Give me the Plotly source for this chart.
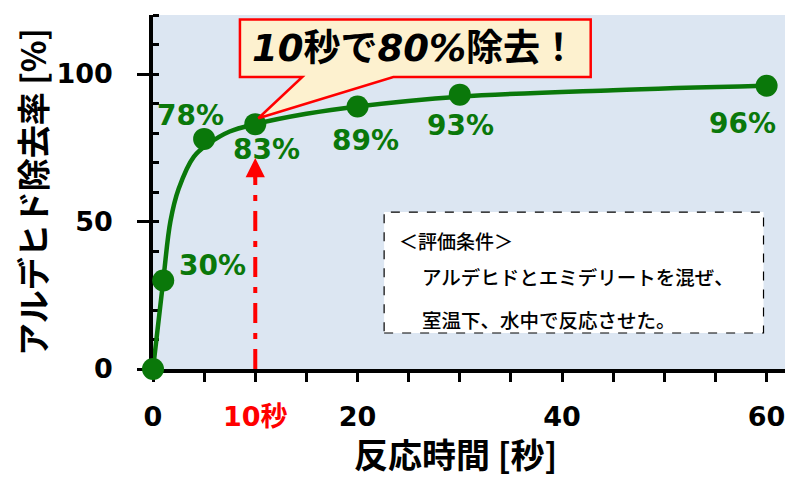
import plotly.graph_objects as go

# measured points: reaction time [s] and removal rate [%]
times = [0, 1, 5, 10, 20, 30, 60]
removal = [0, 30, 78, 83, 89, 93, 96]
labels = ["", "30%", "78%", "83%", "89%", "93%", "96%"]

# fitted curve as drawn in the chart
curve_t = [0, 1, 1.7, 2.5, 4, 5.5, 7.5, 10, 15, 20, 30, 45, 60]
curve_v = [0, 30, 50, 61, 72, 76.5, 80.5, 83, 86.5, 89, 92.3, 94.5, 96]

x_tick_vals = [0, 5, 10, 15, 20, 25, 30, 35, 40, 45, 50, 55, 60]
x_tick_text = ["0", "", "<span style='color:#ff0000'>10秒</span>", "", "20", "", "", "", "40", "", "", "", "60"]
y_tick_vals = [0, 50, 100]

green = "#0a780a"
red = "#ff0000"
num_font = "DejaVu Sans, Noto Sans CJK JP"
jp_font = "Noto Sans CJK JP"

# label offsets in px (placement only)
label_dx = [0, 49, -14, 11, 8, 1, -24]
label_dy = [0, 15, 23, -25, -34, -31, -38]

fig = go.Figure()

fig.add_trace(go.Scatter(
    x=curve_t, y=curve_v, mode="lines",
    line=dict(color=green, width=4.5, shape="spline", smoothing=1.0),
    cliponaxis=False, showlegend=False, hoverinfo="skip",
))
fig.add_trace(go.Scatter(
    x=times, y=removal, mode="markers",
    marker=dict(color=green, size=22),
    cliponaxis=False, showlegend=False, hoverinfo="skip",
))

for t, v, lab, dx, dy in zip(times, removal, labels, label_dx, label_dy):
    if lab == "":
        continue
    fig.add_annotation(x=t, y=v, text="<b>" + lab + "</b>", showarrow=False,
                       xshift=dx, yshift=dy,
                       font=dict(family=num_font, size=28, color=green))

# red dash-dot marker at 10 s
fig.add_shape(type="line", x0=10, x1=10, y0=0, y1=66, xref="x", yref="y",
              line=dict(color=red, width=4, dash="20px,10px,6px,10px"))
fig.add_annotation(x=10, y=71.5, ax=10, ay=64, axref="x", ayref="y",
                   xref="x", yref="y", text="", showarrow=True,
                   arrowhead=2, arrowsize=1.1, arrowwidth=3.5, arrowcolor=red)

# callout box
fig.add_shape(type="path", xref="x", yref="y",
              path="M 8.5 118.5 L 42.8 118.5 L 42.8 99 L 23.5 99 L 10.3 85 L 14.6 99 L 8.5 99 Z",
              fillcolor="#fdf1cf", line=dict(color=red, width=2.5), layer="above")
fig.add_annotation(x=25.6, y=108.7, xref="x", yref="y", showarrow=False,
                   text="<b><i>10</i>秒で<i>80%</i>除去！</b>",
                   font=dict(family="DejaVu Sans, Noto Sans CJK JP", size=37, color="#000000"))

# conditions box
fig.add_shape(type="rect", x0=22.6, x1=59.7, y0=12.2, y1=53.2, xref="x", yref="y",
              fillcolor="#ffffff", line=dict(color="#000000", width=1.2, dash="dash"))
fig.add_annotation(x=23.9, y=43.5, xref="x", yref="y", showarrow=False, xanchor="left",
                   text="＜評価条件＞", font=dict(family=jp_font, size=19, color="#000000", weight=500))
fig.add_annotation(x=26.1, y=31.3, xref="x", yref="y", showarrow=False, xanchor="left",
                   text="アルデヒドとエミデリートを混ぜ、", font=dict(family=jp_font, size=19.5, color="#000000", weight=500))
fig.add_annotation(x=26.1, y=16.8, xref="x", yref="y", showarrow=False, xanchor="left",
                   text="室温下、水中で反応させた。", font=dict(family=jp_font, size=19.5, color="#000000", weight=500))

# x axis title, placed a little left of centre as in the original
fig.add_annotation(x=0.479, y=0, xref="paper", yref="paper", yanchor="middle",
                   yshift=-84, showarrow=False, text="<b>反応時間 [秒]</b>",
                   font=dict(family=jp_font, size=34, color="#000000"))

fig.update_xaxes(
    range=[0, 61.8], tickmode="array", tickvals=x_tick_vals, ticktext=x_tick_text,
    ticks="outside", ticklen=9, tickwidth=3, tickcolor="#000000",
    showline=True, linewidth=3.5, linecolor="#000000", layer="below traces",
    showgrid=False, zeroline=False, ticklabelstandoff=12, automargin=False,
    tickfont=dict(family=num_font, size=27, color="#000000", weight="bold"),
)
fig.update_yaxes(
    range=[0, 120], tickmode="array", tickvals=y_tick_vals,
    ticks="outside", ticklen=12, tickwidth=3, tickcolor="#000000",
    minor=dict(dtick=10, ticks="inside", ticklen=6, tickwidth=2.5, tickcolor="#000000"),
    showline=True, linewidth=3.5, linecolor="#000000", layer="below traces",
    showgrid=False, zeroline=False, ticklabelstandoff=19, automargin=False,
    tickfont=dict(family=num_font, size=27, color="#000000", weight="bold"),
    title=dict(text="<b>アルデヒド除去率 [%]</b>", standoff=14,
               font=dict(family=jp_font, size=33, color="#000000")),
)

# page body has an 8px margin, so the figure is sized to fit inside it
fig.update_layout(
    width=792, height=472,
    margin=dict(l=145, r=15, t=7, b=111),
    plot_bgcolor="#dce6f2", paper_bgcolor="#ffffff",
    showlegend=False,
)

fig.write_html("out.html")
